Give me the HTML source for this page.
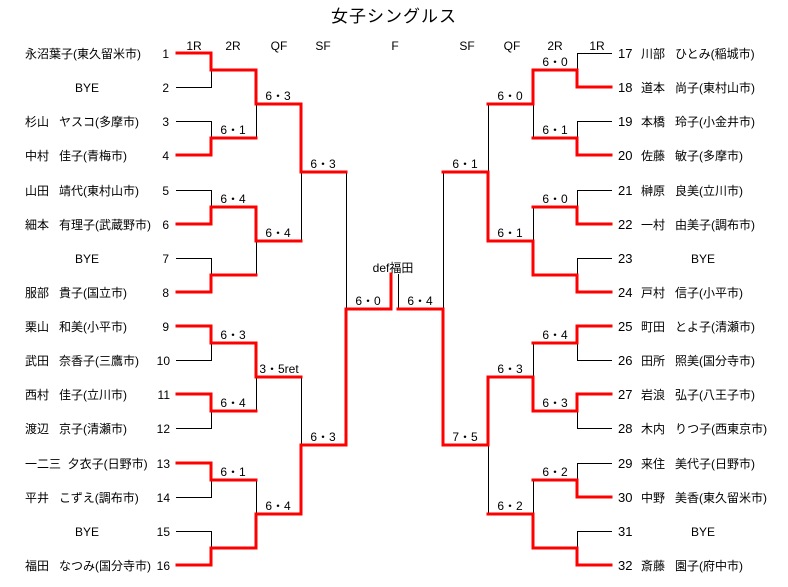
<!DOCTYPE html>
<html><head><meta charset="utf-8"><style>
html,body{margin:0;padding:0;background:#fff}
svg{display:block}
text{font-family:"Liberation Sans","Noto Sans CJK JP",sans-serif;font-size:12px;fill:#000;white-space:pre}
.r{stroke:#ff0000;stroke-width:3;fill:none;stroke-linecap:square}
.k{stroke:#000;stroke-width:1;fill:none}
.m{text-anchor:middle}
.e{text-anchor:end}
.h{font-size:13px}
</style></head><body>
<svg width="788" height="587" viewBox="0 0 788 587" xmlns="http://www.w3.org/2000/svg">
<text x="394" y="22" class="m" style="font-size:17px;letter-spacing:1px">女子シングルス</text>
<g class="m h">
<text x="194" y="50">1R</text><text x="233" y="50">2R</text><text x="279" y="50">QF</text><text x="323" y="50">SF</text><text x="395" y="50">F</text>
<text x="467" y="50">SF</text><text x="512" y="50">QF</text><text x="555" y="50">2R</text><text x="597" y="50">1R</text>
</g>
<path class="k" d="M176 87.5H211.5V70 M176 121.5H211.5V138 M176 190.5H211.5V207 M176 258.5H211.5V275 M176 360.5H211.5V343 M176 428.5H211.5V411 M176 497.5H211.5V480 M176 531.5H211.5V548
M256.5 104V138 M256.5 241V275 M256.5 377V411 M256.5 480V514
M301.5 172V241 M301.5 377V445 M346.5 172V309 M398.5 274V309
M612 53.5H577.5V70 M612 121.5H577.5V138 M612 190.5H577.5V207 M612 258.5H577.5V275 M612 360.5H577.5V343 M612 428.5H577.5V411 M612 463.5H577.5V480 M612 531.5H577.5V548
M533.5 104V138 M533.5 207V241 M533.5 343V377 M533.5 480V514
M488.5 104V172 M488.5 445V514 M443.5 172V309"/>
<path class="r" d="M177 53H211V70H256V104H301V172H346
M177 155H211V138H256
M177 224H211V207H256V241H301
M177 292H211V275H256
M177 326H211V343H256V377H301
M177 394H211V411H256
M177 463H211V480H256
M177 565H211V548H256V514H301V445H346V309H391V274
M611 87H577V70H533V104H488
M611 155H577V138H533
M611 224H577V207H533
M611 292H577V275H533V241H488V172H443
M611 326H577V343H533
M611 394H577V411H533V377H488V445H443V309H398
M611 497H577V480H533
M611 565H577V548H533V514H488"/>
<g class="m h">
<text x="233" y="134">6・1</text><text x="233" y="203">6・4</text><text x="233" y="339">6・3</text><text x="233" y="407">6・4</text><text x="233" y="476">6・1</text>
<text x="278" y="100">6・3</text><text x="278" y="237">6・4</text><text x="279" y="373">3・5ret</text><text x="278" y="510">6・4</text>
<text x="323" y="168">6・3</text><text x="323" y="441">6・3</text>
<text x="368" y="305">6・0</text><text x="420" y="305">6・4</text>
<text x="393" y="272">def福田</text>
<text x="555" y="66">6・0</text><text x="555" y="134">6・1</text><text x="555" y="203">6・0</text><text x="555" y="339">6・4</text><text x="555" y="407">6・3</text><text x="555" y="476">6・2</text>
<text x="510" y="100">6・0</text><text x="510" y="237">6・1</text><text x="510" y="373">6・3</text><text x="510" y="510">6・2</text>
<text x="465" y="168">6・1</text><text x="465" y="441">7・5</text>
</g>
<g class="e h">
<text x="169" y="58">1</text><text x="169" y="92">2</text><text x="169" y="126">3</text><text x="169" y="160">4</text>
<text x="169" y="195">5</text><text x="169" y="229">6</text><text x="169" y="263">7</text><text x="169" y="297">8</text>
<text x="169" y="331">9</text><text x="170" y="365">10</text><text x="170" y="399">11</text><text x="170" y="433">12</text>
<text x="170" y="468">13</text><text x="170" y="502">14</text><text x="170" y="536">15</text><text x="170" y="570">16</text>
</g>
<g>
<text x="25" y="58">永沼葉子(東久留米市)</text>
<text x="87" y="92" class="m">BYE</text>
<text x="25" y="126">杉山   ヤスコ(多摩市)</text>
<text x="25" y="160">中村   佳子(青梅市)</text>
<text x="25" y="195">山田   靖代(東村山市)</text>
<text x="25" y="229">細本   有理子(武蔵野市)</text>
<text x="87" y="263" class="m">BYE</text>
<text x="25" y="297">服部   貴子(国立市)</text>
<text x="25" y="331">栗山   和美(小平市)</text>
<text x="25" y="365">武田   奈香子(三鷹市)</text>
<text x="25" y="399">西村   佳子(立川市)</text>
<text x="25" y="433">渡辺   京子(清瀬市)</text>
<text x="25" y="468">一二三  夕衣子(日野市)</text>
<text x="25" y="502">平井   こずえ(調布市)</text>
<text x="87" y="536" class="m">BYE</text>
<text x="25" y="570">福田   なつみ(国分寺市)</text>
</g>
<g>
<text x="618" y="58" class="h">17</text><text x="641" y="58">川部   ひとみ(稲城市)</text>
<text x="618" y="92" class="h">18</text><text x="641" y="92">道本   尚子(東村山市)</text>
<text x="618" y="126" class="h">19</text><text x="641" y="126">本橋   玲子(小金井市)</text>
<text x="618" y="160" class="h">20</text><text x="641" y="160">佐藤   敏子(多摩市)</text>
<text x="618" y="195" class="h">21</text><text x="641" y="195">榊原   良美(立川市)</text>
<text x="618" y="229" class="h">22</text><text x="641" y="229">一村   由美子(調布市)</text>
<text x="618" y="263" class="h">23</text><text x="703" y="263" class="m">BYE</text>
<text x="618" y="297" class="h">24</text><text x="641" y="297">戸村   信子(小平市)</text>
<text x="618" y="331" class="h">25</text><text x="641" y="331">町田   とよ子(清瀬市)</text>
<text x="618" y="365" class="h">26</text><text x="641" y="365">田所   照美(国分寺市)</text>
<text x="618" y="399" class="h">27</text><text x="641" y="399">岩浪   弘子(八王子市)</text>
<text x="618" y="433" class="h">28</text><text x="641" y="433">木内   りつ子(西東京市)</text>
<text x="618" y="468" class="h">29</text><text x="641" y="468">来住   美代子(日野市)</text>
<text x="618" y="502" class="h">30</text><text x="641" y="502">中野   美香(東久留米市)</text>
<text x="618" y="536" class="h">31</text><text x="703" y="536" class="m">BYE</text>
<text x="618" y="570" class="h">32</text><text x="641" y="570">斎藤   園子(府中市)</text>
</g>
</svg>
</body></html>
